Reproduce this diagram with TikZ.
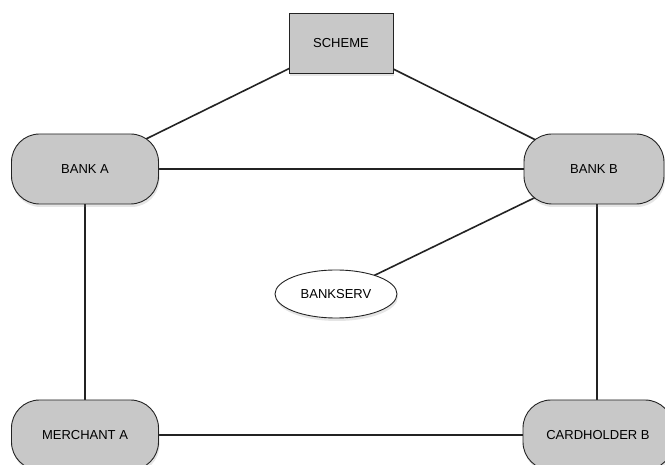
\documentclass[tikz,border=0pt]{standalone}
\usepackage{fontspec}
\setmainfont{Liberation Sans}
\usetikzlibrary{shapes.geometric,shadows,backgrounds}
\definecolor{boxgray}{RGB}{200,200,200}
\definecolor{edgegray}{RGB}{35,35,35}
\tikzset{
  base/.style={draw=edgegray, line width=0.9pt, fill=boxgray, font=\fontsize{13}{15}\selectfont,
    drop shadow={opacity=0.2, shadow xshift=1pt, shadow yshift=-3pt}},
  party/.style={base, rectangle, rounded corners=28pt, minimum height=70pt},
  schemebox/.style={base, rectangle, minimum width=104pt, minimum height=60pt},
  service/.style={base, ellipse, fill=white, minimum width=122pt, minimum height=48pt},
  link/.style={draw=edgegray, line width=1.6pt}
}
\begin{document}
\begin{tikzpicture}[x=1pt, y=-1pt]
  \useasboundingbox (0,0) rectangle (665,465);

  \node[schemebox] (scheme) at (341,43) {SCHEME};
  \node[party, minimum width=147pt] (banka) at (85,169) {BANK A};
  \node[party, minimum width=140pt] (bankb) at (594,169) {BANK B};
  \node[service] (bankserv) at (336,294) {BANKSERV};
  \node[party, minimum width=147pt] (merchant) at (85,435) {MERCHANT A};
  \node[party, minimum width=150pt] (cardholder) at (598,435) {CARDHOLDER B};

  % connectors run centre to centre, hidden under the filled shapes
  \begin{scope}[on background layer]
    \fill[white] (0,0) rectangle (665,465);
    \draw[link] (scheme.center) -- (banka.center);
    \draw[link] (scheme.center) -- (bankb.center);
    \draw[link] (banka.center) -- (bankb.center);
    \draw[link] (banka.center) -- (merchant.center);
    \draw[link] (bankb.center -| 597,0) -- (cardholder.center -| 597,0);
    \draw[link] (merchant.center) -- (cardholder.center);
    \draw[link] (bankb.center) -- (bankserv.center);
  \end{scope}
\end{tikzpicture}
\end{document}
